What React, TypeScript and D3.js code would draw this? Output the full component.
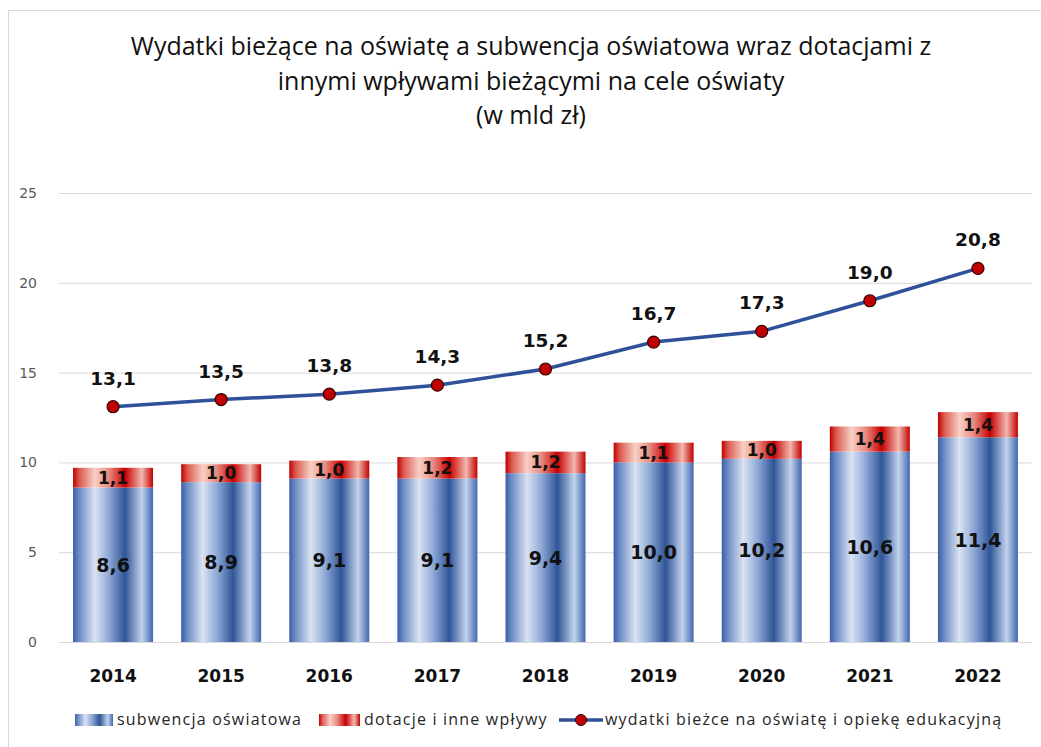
import React from "react";
import * as d3 from "d3";

const years = ["2014", "2015", "2016", "2017", "2018", "2019", "2020", "2021", "2022"];
const subwencja = [8.6, 8.9, 9.1, 9.1, 9.4, 10.0, 10.2, 10.6, 11.4];
const dotacje = [1.1, 1.0, 1.0, 1.2, 1.2, 1.1, 1.0, 1.4, 1.4];
const wydatki = [13.1, 13.5, 13.8, 14.3, 15.2, 16.7, 17.3, 19.0, 20.8];
const yTicks = [0, 5, 10, 15, 20, 25];
const titleLines = [
  "Wydatki bieżące na oświatę a subwencja oświatowa wraz dotacjami z",
  "innymi wpływami bieżącymi na cele oświaty",
  "(w mld zł)",
];
const legendLabels = ["subwencja oświatowa", "dotacje i inne wpływy", "wydatki bieżce na oświatę  i opiekę edukacyjną"];

const W = 1041;
const H = 747;
const fmt = (v: number) => v.toFixed(1).replace(".", ",");
const titleFont = "'Liberation Sans Narrow', 'Arial Narrow', 'Open Sans', sans-serif";
const numFont = "'DejaVu Sans', Verdana, sans-serif";

export default function App() {
  const x = d3.scaleBand<string>().domain(years).range([59, 1032]).paddingInner(0.26).paddingOuter(0.13);
  const y = d3.scaleLinear().domain([0, 25]).range([642, 193]);
  const cx = (yr: string) => (x(yr) as number) + x.bandwidth() / 2;
  const line = d3
    .line<number>()
    .x((_, i) => cx(years[i]))
    .y((d) => y(d));

  return (
    <svg width={W} height={H} style={{ position: "absolute", left: 0, top: 0, background: "#fff" }}>
      <defs>
        <linearGradient id="gBlue" x1="0" x2="1" y1="0" y2="0">
          <stop offset="0" stopColor="#3a5fa6" />
          <stop offset="0.08" stopColor="#6f8dc6" />
          <stop offset="0.27" stopColor="#d9e3f3" />
          <stop offset="0.45" stopColor="#8ea8d6" />
          <stop offset="0.65" stopColor="#2f5597" />
          <stop offset="0.86" stopColor="#c3d2ec" />
          <stop offset="1" stopColor="#4068b0" />
        </linearGradient>
        <linearGradient id="gRed" x1="0" x2="1" y1="0" y2="0">
          <stop offset="0" stopColor="#c00000" />
          <stop offset="0.08" stopColor="#dc5a50" />
          <stop offset="0.27" stopColor="#f7d0c6" />
          <stop offset="0.45" stopColor="#e88a80" />
          <stop offset="0.65" stopColor="#c80000" />
          <stop offset="0.86" stopColor="#f2b8ae" />
          <stop offset="1" stopColor="#c20000" />
        </linearGradient>
      </defs>
      <rect x={8.5} y={10.5} width={W} height={H} fill="#fff" stroke="#d9d9d9" />

      {titleLines.map((t, i) => (
        <text
          key={i}
          x={531}
          y={55 + i * 34.5}
          textAnchor="middle"
          fontFamily={titleFont}
          fontSize={25}
          fill="#111"
        >
          {t}
        </text>
      ))}

      {yTicks.map((t) => (
        <g key={t}>
          <line x1={59} x2={1032} y1={y(t) + 0.5} y2={y(t) + 0.5} stroke="#d9d9d9" strokeWidth={1} />
          <text x={37} y={y(t) + 5} textAnchor="end" fontFamily={numFont} fontSize={14} fill="#595959">
            {t}
          </text>
        </g>
      ))}

      {years.map((yr, i) => {
        const x0 = x(yr) as number;
        const bw = x.bandwidth();
        const s = subwencja[i];
        const d = dotacje[i];
        return (
          <g key={yr}>
            <rect x={x0} y={y(s)} width={bw} height={y(0) - y(s)} fill="url(#gBlue)" />
            <rect x={x0} y={y(s + d)} width={bw} height={y(s) - y(s + d)} fill="url(#gRed)" />
            <text
              x={cx(yr)}
              y={(y(0) + y(s)) / 2 + 7}
              textAnchor="middle"
              fontFamily={numFont}
              fontWeight="bold"
              fontSize={19}
              fill="#111"
            >
              {fmt(s)}
            </text>
            <text
              x={cx(yr)}
              y={(y(s) + y(s + d)) / 2 + 6}
              textAnchor="middle"
              fontFamily={numFont}
              fontWeight="bold"
              fontSize={17}
              fill="#111"
            >
              {fmt(d)}
            </text>
            <text
              x={cx(yr)}
              y={682}
              textAnchor="middle"
              fontFamily={numFont}
              fontWeight="bold"
              fontSize={17}
              fill="#111"
            >
              {yr}
            </text>
          </g>
        );
      })}

      <path d={line(wydatki) || ""} fill="none" stroke="#2f5199" strokeWidth={3.5} />
      {wydatki.map((v, i) => (
        <g key={i}>
          <circle cx={cx(years[i])} cy={y(v)} r={6} fill="#c00000" stroke="#3a0000" strokeWidth={1.2} />
          <text
            x={cx(years[i])}
            y={y(v) - 22}
            textAnchor="middle"
            fontFamily={numFont}
            fontWeight="bold"
            fontSize={18.5}
            fill="#111"
          >
            {fmt(v)}
          </text>
        </g>
      ))}

      <g fontFamily={titleFont} fontSize={16} fill="#262626" letterSpacing={1.2}>
        <rect x={75} y={714} width={38} height={12} fill="url(#gBlue)" />
        <text x={117} y={725}>{legendLabels[0]}</text>
        <rect x={319} y={714} width={41} height={12} fill="url(#gRed)" />
        <text x={364} y={725}>{legendLabels[1]}</text>
        <line x1={559} x2={603} y1={720} y2={720} stroke="#2f5199" strokeWidth={3.5} />
        <circle cx={581} cy={720} r={5.5} fill="#c00000" stroke="#3a0000" strokeWidth={1} />
        <text x={605} y={725}>{legendLabels[2]}</text>
      </g>
    </svg>
  );
}
